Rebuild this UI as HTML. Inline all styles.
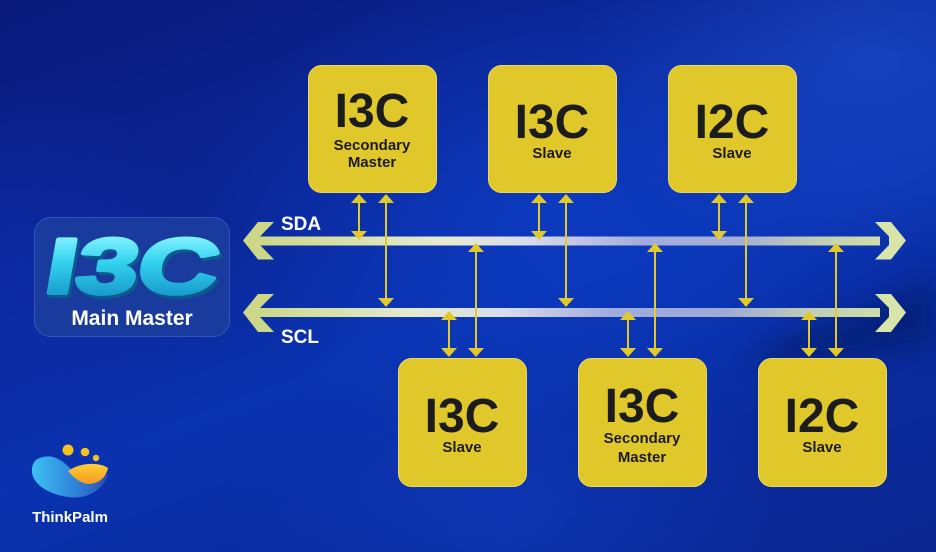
<!DOCTYPE html>
<html><head><meta charset="utf-8"><style>
html,body{margin:0;padding:0;}
body{width:936px;height:552px;overflow:hidden;position:relative;
background:
 radial-gradient(ellipse 300px 200px at 870px 60px, rgba(32,84,215,0.55), rgba(32,84,215,0) 100%),
 radial-gradient(ellipse 360px 240px at 560px 210px, rgba(12,60,196,0.85), rgba(12,60,196,0) 100%),
 radial-gradient(ellipse 280px 170px at 500px 510px, rgba(14,58,186,0.7), rgba(14,58,186,0) 100%),
 radial-gradient(ellipse 200px 220px at 10px 300px, rgba(14,46,176,0.6), rgba(14,46,176,0) 100%),
 linear-gradient(160deg,#0a1a7c 0%,#0b2696 35%,#0a33b0 55%,#0a2a9c 80%,#0b2690 100%);
font-family:"Liberation Sans",sans-serif;}
svg{position:absolute;left:0;top:0;}
</style></head><body>
<svg width="936" height="552" viewBox="0 0 936 552" xmlns="http://www.w3.org/2000/svg">
<defs>
 <linearGradient id="busA" x1="250" y1="0" x2="906" y2="0" gradientUnits="userSpaceOnUse">
  <stop offset="0" stop-color="#c9d784"/>
  <stop offset="0.3" stop-color="#e6ebd0"/>
  <stop offset="0.42" stop-color="#d8dcec"/>
  <stop offset="0.6" stop-color="#a2acdc"/>
  <stop offset="0.75" stop-color="#a4afd4"/>
  <stop offset="0.88" stop-color="#c4d2b0"/>
  <stop offset="1" stop-color="#d6e2a6"/>
 </linearGradient>
 <linearGradient id="busB" x1="250" y1="0" x2="906" y2="0" gradientUnits="userSpaceOnUse">
  <stop offset="0" stop-color="#c9d784"/>
  <stop offset="0.25" stop-color="#e4ead0"/>
  <stop offset="0.38" stop-color="#dadeea"/>
  <stop offset="0.55" stop-color="#a2acdc"/>
  <stop offset="0.72" stop-color="#9ea9d6"/>
  <stop offset="0.86" stop-color="#c0cfb4"/>
  <stop offset="1" stop-color="#d6e2a6"/>
 </linearGradient>
 <linearGradient id="cyan" x1="0" y1="-56" x2="0" y2="0" gradientUnits="userSpaceOnUse">
  <stop offset="0" stop-color="#7ff2ff"/>
  <stop offset="0.45" stop-color="#33d2ee"/>
  <stop offset="1" stop-color="#1a9fd0"/>
 </linearGradient>
 <linearGradient id="blob" x1="32" y1="0" x2="108" y2="0" gradientUnits="userSpaceOnUse">
  <stop offset="0" stop-color="#3cc0f2"/>
  <stop offset="0.6" stop-color="#2f7fd8"/>
  <stop offset="1" stop-color="#2a4fb0"/>
 </linearGradient>
 <linearGradient id="org" x1="0" y1="462" x2="0" y2="484" gradientUnits="userSpaceOnUse">
  <stop offset="0" stop-color="#ffd23a"/>
  <stop offset="1" stop-color="#f59a1e"/>
 </linearGradient>
 <filter id="soft" x="-20%" y="-50%" width="140%" height="200%"><feGaussianBlur stdDeviation="14"/></filter>
</defs>

<!-- dark streak right -->
<path d="M760 350 C820 325 880 300 936 280 L936 345 C880 352 820 362 760 372 Z" fill="#061456" opacity="0.5" filter="url(#soft)"/>

<!-- Main master box -->
<rect x="34.5" y="217.5" width="195" height="119" rx="16" fill="#1a3b9e" stroke="#3553b8" stroke-width="1"/>
<g transform="translate(128,293) skewX(-10)">
 <text x="3" y="3" text-anchor="middle" font-family="Liberation Sans" font-weight="bold" font-size="78" textLength="172" lengthAdjust="spacingAndGlyphs" fill="#0b5c8c" stroke="#0b5c8c" stroke-width="4" stroke-linejoin="round">I3C</text>
 <text x="0" y="0" text-anchor="middle" font-family="Liberation Sans" font-weight="bold" font-size="78" textLength="172" lengthAdjust="spacingAndGlyphs" fill="url(#cyan)" stroke="url(#cyan)" stroke-width="4" stroke-linejoin="round">I3C</text>
</g>
<text x="132" y="325" text-anchor="middle" font-family="Liberation Sans" font-weight="bold" font-size="21" fill="#ffffff">Main Master</text>

<!-- Buses -->
<rect x="258" y="236.5" width="622" height="9" fill="url(#busA)"/>
<polygon points="243,240.5 258,222 274,222 260,236.5 260,245 274,259.5 258,259.5" fill="#ccd888"/>
<polygon points="906,240.5 891,222 875,222 889,236.5 889,245 875,259.5 891,259.5" fill="#d8e4aa"/>

<rect x="258" y="308" width="622" height="9" fill="url(#busB)"/>
<polygon points="243,312.5 258,294 274,294 260,308 260,317 274,332 258,332" fill="#ccd888"/>
<polygon points="906,312.5 891,294 875,294 889,308 889,317 875,332 891,332" fill="#d8e4aa"/>

<text x="281" y="230" font-family="Liberation Sans" font-weight="bold" font-size="19" fill="#ffffff">SDA</text>
<text x="281" y="343" font-family="Liberation Sans" font-weight="bold" font-size="19" fill="#ffffff">SCL</text>

<!-- Connectors -->
<g fill="#e2c92a" stroke="none">
 <polygon points="359,194 351,203 367,203"/><rect x="358" y="202" width="2" height="30"/><polygon points="359,240 351,231 367,231"/>
 <polygon points="386,194 378,203 394,203"/><rect x="385" y="202" width="2" height="97"/><polygon points="386,307 378,298 394,298"/>
 <polygon points="539,194 531,203 547,203"/><rect x="538" y="202" width="2" height="30"/><polygon points="539,240 531,231 547,231"/>
 <polygon points="566,194 558,203 574,203"/><rect x="565" y="202" width="2" height="97"/><polygon points="566,307 558,298 574,298"/>
 <polygon points="719,194 711,203 727,203"/><rect x="718" y="202" width="2" height="30"/><polygon points="719,240 711,231 727,231"/>
 <polygon points="746,194 738,203 754,203"/><rect x="745" y="202" width="2" height="97"/><polygon points="746,307 738,298 754,298"/>
 <polygon points="449,311 441,320 457,320"/><rect x="448" y="319" width="2" height="31"/><polygon points="449,357 441,348 457,348"/>
 <polygon points="476,243 468,252 484,252"/><rect x="475" y="251" width="2" height="99"/><polygon points="476,357 468,348 484,348"/>
 <polygon points="628,311 620,320 636,320"/><rect x="627" y="319" width="2" height="31"/><polygon points="628,357 620,348 636,348"/>
 <polygon points="655,243 647,252 663,252"/><rect x="654" y="251" width="2" height="99"/><polygon points="655,357 647,348 663,348"/>
 <polygon points="809,311 801,320 817,320"/><rect x="808" y="319" width="2" height="31"/><polygon points="809,357 801,348 817,348"/>
 <polygon points="836,243 828,252 844,252"/><rect x="835" y="251" width="2" height="99"/><polygon points="836,357 828,348 844,348"/>
</g>

<!-- Yellow boxes -->
<g fill="#e1c82a" stroke="#ecd760" stroke-width="1">
 <rect x="308.5" y="65.5" width="128" height="127" rx="13"/>
 <rect x="488.5" y="65.5" width="128" height="127" rx="13"/>
 <rect x="668.5" y="65.5" width="128" height="127" rx="13"/>
 <rect x="398.5" y="358.5" width="128" height="128" rx="13"/>
 <rect x="578.5" y="358.5" width="128" height="128" rx="13"/>
 <rect x="758.5" y="358.5" width="128" height="128" rx="13"/>
</g>

<g font-family="Liberation Sans" font-weight="bold" fill="#1c1c1c" text-anchor="middle">
 <text x="372" y="127" font-size="48">I3C</text>
 <text x="372" y="150" font-size="15">Secondary</text>
 <text x="372" y="167" font-size="15">Master</text>

 <text x="552" y="138" font-size="48">I3C</text>
 <text x="552" y="158" font-size="15">Slave</text>

 <text x="732" y="138" font-size="48">I2C</text>
 <text x="732" y="158" font-size="15">Slave</text>

 <text x="462" y="432" font-size="48">I3C</text>
 <text x="462" y="452" font-size="15">Slave</text>

 <text x="642" y="422" font-size="48">I3C</text>
 <text x="642" y="443" font-size="15">Secondary</text>
 <text x="642" y="462" font-size="15">Master</text>

 <text x="822" y="432" font-size="48">I2C</text>
 <text x="822" y="452" font-size="15">Slave</text>
</g>

<!-- ThinkPalm logo -->
<path d="M40 458 C55 452 66 464 74 472 C84 481 98 480 108 474 C104 490 86 500 68 497 C46 494 30 482 32 468 C33 462 36 459 40 458 Z" fill="url(#blob)"/>
<path d="M68 471 C80 462 100 462 108 468 C106 478 98 484 88 484 C80 483 74 478 68 471 Z" fill="url(#org)"/>
<circle cx="68" cy="450" r="5.5" fill="#f7c21c"/>
<circle cx="85" cy="452" r="4.3" fill="#f7c21c"/>
<circle cx="96" cy="458" r="3.2" fill="#f7c21c"/>
<text x="70" y="522" text-anchor="middle" font-family="Liberation Sans" font-weight="bold" font-size="15" fill="#ffffff">ThinkPalm</text>
</svg>
</body></html>
